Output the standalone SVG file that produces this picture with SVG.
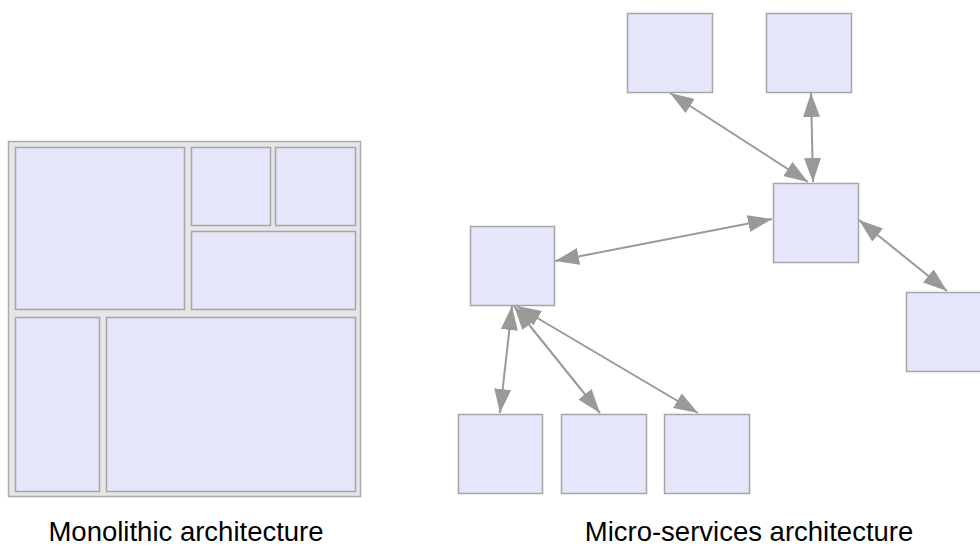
<svg xmlns="http://www.w3.org/2000/svg" width="980" height="547" viewBox="0 0 980 547">
  <style>
    .box { fill: #e5e5fb; stroke: #a6a6a6; stroke-width: 1.5; }
    .frame { fill: #e6e6e6; stroke: #aaaaaa; stroke-width: 1.5; }
    .link { stroke: #999999; stroke-width: 2; fill: none; marker-start: url(#head); marker-end: url(#head); }
    .caption { font-family: "Liberation Sans", Arial, Helvetica, sans-serif; font-size: 27.5px; fill: #000000; text-anchor: middle; }
  </style>
  <defs>
    <marker id="head" viewBox="0 0 24 17" refX="24" refY="8.5" markerWidth="24" markerHeight="17" markerUnits="userSpaceOnUse" orient="auto-start-reverse">
      <path d="M0,0 L24,8.5 L0,17 z" fill="#999999"/>
    </marker>
  </defs>

  <rect width="980" height="547" fill="#ffffff"/>

  <!-- Monolith: one frame holding tightly packed modules -->
  <g id="monolith">
    <rect class="frame" x="8.5" y="141.5" width="352" height="355"/>
    <rect id="mono-a" class="box" x="15.5" y="147.5" width="169" height="162"/>
    <rect id="mono-b" class="box" x="191.5" y="147.5" width="79" height="78"/>
    <rect id="mono-c" class="box" x="275.5" y="147.5" width="80" height="78"/>
    <rect id="mono-d" class="box" x="191.5" y="231.5" width="164" height="78"/>
    <rect id="mono-e" class="box" x="15.5" y="317.5" width="84" height="174"/>
    <rect id="mono-f" class="box" x="106.5" y="317.5" width="249" height="174"/>
  </g>

  <!-- Micro-services: independent nodes -->
  <g id="svc-top-left"><rect class="box" x="627.5" y="13.5" width="85" height="79"/></g>
  <g id="svc-top-right"><rect class="box" x="766.5" y="13.5" width="85" height="79"/></g>
  <g id="svc-hub"><rect class="box" x="773.5" y="183.5" width="85" height="79"/></g>
  <g id="svc-left"><rect class="box" x="470.5" y="226.5" width="84" height="79"/></g>
  <g id="svc-right"><rect class="box" x="906.5" y="292.5" width="80" height="79"/></g>
  <g id="svc-bottom-1"><rect class="box" x="458.5" y="414.5" width="84" height="79"/></g>
  <g id="svc-bottom-2"><rect class="box" x="561.5" y="414.5" width="85" height="79"/></g>
  <g id="svc-bottom-3"><rect class="box" x="664.5" y="414.5" width="85" height="79"/></g>

  <!-- Bidirectional links -->
  <g id="links">
    <line class="link" x1="555" y1="261" x2="772" y2="219"/>
    <line class="link" x1="670" y1="93" x2="808" y2="182"/>
    <line class="link" x1="811" y1="93" x2="813" y2="182"/>
    <line class="link" x1="859" y1="220" x2="947" y2="291"/>
    <line class="link" x1="512" y1="306" x2="500" y2="413"/>
    <line class="link" x1="514" y1="306" x2="600" y2="413"/>
    <line class="link" x1="517" y1="306" x2="698" y2="413"/>
  </g>

  <text class="caption" x="186" y="541">Monolithic architecture</text>
  <text class="caption" x="749" y="541">Micro-services architecture</text>
</svg>
